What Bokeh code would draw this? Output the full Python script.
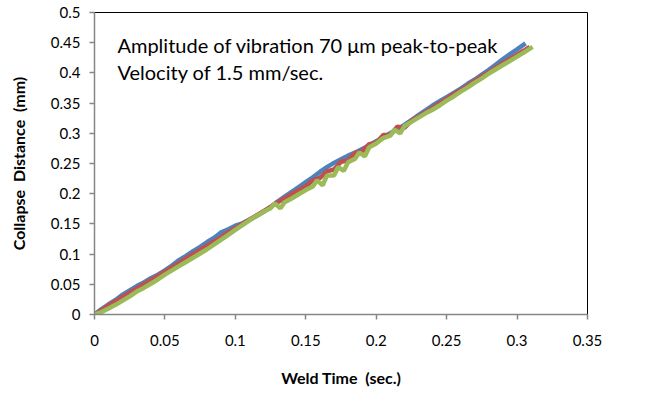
from bokeh.plotting import figure
from bokeh.models import Label, Range1d, FixedTicker
from bokeh.embed import file_html
from bokeh.resources import INLINE

# Data
blue_x = [0, 0.005, 0.01, 0.015, 0.02, 0.025, 0.03, 0.035, 0.04, 0.045, 0.05, 0.055, 0.06, 0.065, 0.07, 0.075,
          0.08, 0.085, 0.09, 0.095, 0.1, 0.105, 0.11, 0.115, 0.12, 0.125, 0.13, 0.135, 0.14, 0.145, 0.15, 0.155,
          0.16, 0.165, 0.17, 0.175, 0.18, 0.185, 0.19, 0.195, 0.2, 0.205, 0.21, 0.215, 0.22, 0.225, 0.23, 0.235,
          0.24, 0.245, 0.25, 0.255, 0.26, 0.265, 0.27, 0.275, 0.28, 0.285, 0.29, 0.295, 0.3, 0.306]
blue_y = [0, 0.009, 0.017, 0.024, 0.033, 0.040, 0.047, 0.053, 0.060, 0.066, 0.073, 0.081, 0.090, 0.097, 0.105, 0.112,
          0.120, 0.127, 0.136, 0.141, 0.147, 0.151, 0.157, 0.163, 0.170, 0.178, 0.187, 0.195, 0.203, 0.211, 0.219, 0.227,
          0.236, 0.244, 0.251, 0.257, 0.263, 0.268, 0.274, 0.280, 0.287, 0.293, 0.300, 0.307, 0.314, 0.322, 0.330, 0.338,
          0.346, 0.353, 0.360, 0.367, 0.374, 0.382, 0.389, 0.397, 0.405, 0.414, 0.423, 0.431, 0.439, 0.449]

red_x = [0, 0.005, 0.01, 0.015, 0.02, 0.025, 0.03, 0.035, 0.04, 0.045, 0.05, 0.055, 0.06, 0.065, 0.07, 0.075,
         0.08, 0.085, 0.09, 0.095, 0.1, 0.105, 0.11, 0.115, 0.12, 0.125, 0.13, 0.135, 0.14, 0.145, 0.15, 0.155,
         0.16, 0.165, 0.17, 0.175, 0.18, 0.185, 0.19, 0.195, 0.2, 0.205, 0.21, 0.215, 0.22, 0.225, 0.23, 0.235,
         0.24, 0.245, 0.25, 0.255, 0.26, 0.265, 0.27, 0.275, 0.28, 0.285, 0.29, 0.295, 0.3, 0.305, 0.309]
red_y = [0, 0.007, 0.015, 0.022, 0.029, 0.036, 0.043, 0.050, 0.057, 0.064, 0.071, 0.078, 0.085, 0.093, 0.100, 0.107,
         0.114, 0.121, 0.128, 0.136, 0.143, 0.150, 0.157, 0.164, 0.171, 0.178, 0.186, 0.192, 0.199, 0.206, 0.212, 0.222,
         0.226, 0.237, 0.240, 0.253, 0.255, 0.268, 0.270, 0.282, 0.284, 0.297, 0.297, 0.311, 0.309, 0.321, 0.328, 0.335,
         0.342, 0.350, 0.357, 0.365, 0.372, 0.379, 0.387, 0.394, 0.401, 0.409, 0.416, 0.423, 0.430, 0.437, 0.443]

green_x = [0, 0.005, 0.01, 0.015, 0.02, 0.025, 0.03, 0.035, 0.04, 0.045, 0.05, 0.055, 0.06, 0.065, 0.07, 0.075,
           0.08, 0.085, 0.09, 0.095, 0.1, 0.105, 0.11, 0.115, 0.12, 0.125, 0.128, 0.132, 0.135, 0.14, 0.145, 0.15,
           0.155, 0.158, 0.162, 0.165, 0.17, 0.173, 0.177, 0.18, 0.185, 0.188, 0.192, 0.195, 0.2, 0.205, 0.21, 0.213,
           0.217, 0.22, 0.225, 0.23, 0.235, 0.24, 0.245, 0.25, 0.255, 0.26, 0.265, 0.27, 0.275, 0.28, 0.285, 0.29,
           0.295, 0.3, 0.305, 0.311]
green_y = [0, 0.004, 0.010, 0.016, 0.023, 0.030, 0.038, 0.044, 0.051, 0.058, 0.066, 0.073, 0.080, 0.087, 0.094, 0.101,
           0.108, 0.116, 0.124, 0.132, 0.140, 0.148, 0.156, 0.163, 0.170, 0.176, 0.184, 0.176, 0.186, 0.192, 0.199, 0.206,
           0.212, 0.222, 0.214, 0.230, 0.230, 0.244, 0.238, 0.252, 0.258, 0.268, 0.262, 0.277, 0.283, 0.292, 0.296, 0.306,
           0.300, 0.312, 0.319, 0.326, 0.333, 0.339, 0.346, 0.354, 0.361, 0.369, 0.376, 0.384, 0.391, 0.399, 0.406, 0.413,
           0.420, 0.427, 0.434, 0.443]

x_ticks = [0, 0.05, 0.1, 0.15, 0.2, 0.25, 0.3, 0.35]
y_ticks = [0, 0.05, 0.1, 0.15, 0.2, 0.25, 0.3, 0.35, 0.4, 0.45, 0.5]
x_label = "Weld\u00a0Time\u00a0\u00a0(sec.)"
y_label = "Collapse\u00a0\u00a0Distance\u00a0\u00a0(mm)"
note_1 = "Amplitude of vibration 70 \u03bcm peak-to-peak"
note_2 = "Velocity of 1.5 mm/sec."

FONT = "Lato"

p = figure(width=672, height=396, output_backend="svg", toolbar_location=None,
           x_range=Range1d(0, 0.35), y_range=Range1d(0, 0.5))
p.min_border_left = 94
p.min_border_right = 85
p.min_border_top = 12
p.min_border_bottom = 82
p.background_fill_color = "white"
p.border_fill_color = "white"
p.outline_line_color = "#000000"
p.outline_line_width = 1
p.xgrid.visible = False
p.ygrid.visible = False

p.line(blue_x, blue_y, line_color="#4F81BD", line_width=4.5)
p.line(red_x, red_y, line_color="#C0504D", line_width=4.5)
p.line(green_x, green_y, line_color="#9BBB59", line_width=4.5)

for ax, ticks in ((p.xaxis[0], x_ticks), (p.yaxis[0], y_ticks)):
    ax.ticker = FixedTicker(ticks=ticks)
    ax.axis_line_color = "#868686"
    ax.axis_line_width = 1.5
    ax.major_tick_line_color = "#868686"
    ax.major_tick_line_width = 1.5
    ax.major_tick_in = 0
    ax.major_tick_out = 5
    ax.minor_tick_line_color = None
    ax.major_label_text_font = FONT
    ax.major_label_text_font_size = "15px"
    ax.major_label_text_color = "#000000"
    ax.axis_label_text_font = FONT
    ax.axis_label_text_font_size = "16px"
    ax.axis_label_text_font_style = "bold"
    ax.axis_label_text_color = "#000000"

p.xaxis[0].major_label_standoff = 15
p.xaxis[0].axis_label = x_label
p.xaxis[0].axis_label_standoff = 19
p.yaxis[0].major_label_standoff = 9
p.yaxis[0].axis_label = y_label
p.yaxis[0].axis_label_standoff = 20

p.add_layout(Label(x=0.0163, y=0.4454, text=note_1, text_font=FONT, text_font_size="20px",
                   text_baseline="middle", text_color="#000000"))
p.add_layout(Label(x=0.0163, y=0.4007, text=note_2, text_font=FONT, text_font_size="20px",
                   text_baseline="middle", text_color="#000000"))

open("out.html", "w").write(file_html(p, INLINE))
